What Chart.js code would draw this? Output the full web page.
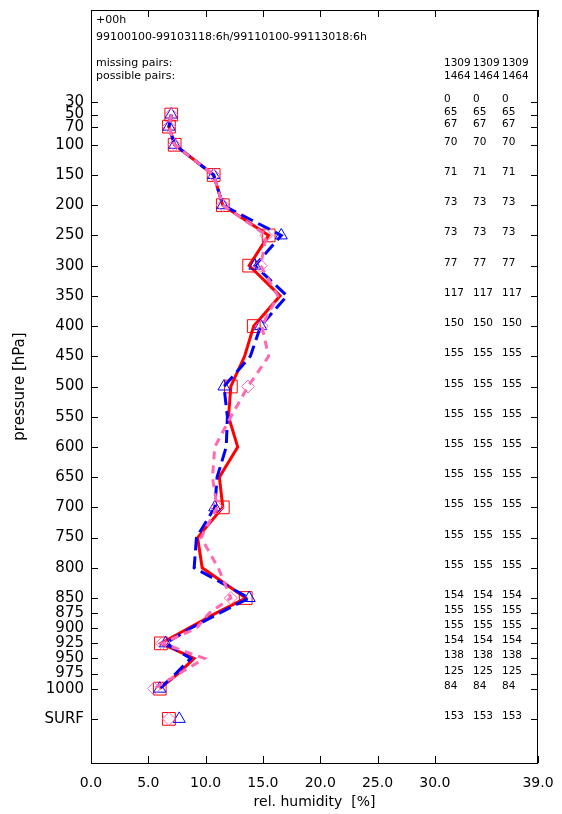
<!DOCTYPE html>
<html><head><meta charset="utf-8">
<script src="https://cdn.jsdelivr.net/npm/chart.js@4/dist/chart.umd.min.js"></script>
<style>html,body{margin:0;padding:0;background:#fff}</style>
</head><body>
<canvas id="c" width="562" height="814"></canvas>
<script>
// ---------- data ----------
const levelLabels = ['30','50','70','100','150','200','250','300','350','400','450','500','550','600','650','700','750','800','850','875','900','925','950','975','1000','SURF'];
const levelPressure = [30,50,70,100,150,200,250,300,350,400,450,500,550,600,650,700,750,800,850,875,900,925,950,975,1000,1050];
const markerLevels = [50,70,100,150,200,250,300,400,500,700,850,925,1000,1050];
const redValues  = [null,7.0,6.8,7.3,10.7,11.5,15.5,13.8,16.5,14.2,13.4,12.2,12.0,12.8,11.2,11.5,9.3,9.7,13.5,10.9,8.5,6.1,9.0,7.6,6.0,6.8];
const blueValues = [null,7.0,6.8,7.3,10.7,11.5,16.6,14.3,17.1,14.8,13.9,11.6,11.9,11.8,11.0,10.8,9.2,9.0,13.8,11.2,8.7,6.5,8.7,7.4,6.0,7.7];
const pinkValues = [null,7.0,6.8,7.3,10.7,11.5,15.3,14.8,16.3,14.9,15.5,13.7,12.2,10.8,10.6,11.0,9.6,11.1,12.2,10.3,9.2,6.2,9.9,7.7,5.5,6.8];
const countsCol1 = [0,65,67,70,71,73,73,77,117,150,155,155,155,155,155,155,155,155,154,155,155,154,138,125,84,153];
const countsCol2 = [0,65,67,70,71,73,73,77,117,150,155,155,155,155,155,155,155,155,154,155,155,154,138,125,84,153];
const countsCol3 = [0,65,67,70,71,73,73,77,117,150,155,155,155,155,155,155,155,155,154,155,155,154,138,125,84,153];
const missingPairs  = [1309,1309,1309];
const possiblePairs = [1464,1464,1464];
const xTicks = [0,5,10,15,20,25,30,39];
const headerLines = ['+00h','99100100-99103118:6h/99110100-99113018:6h'];

// ---------- helpers ----------
function pts(vals){
  const out=[];
  vals.forEach((v,i)=>{ if(v!==null) out.push({x:v,y:levelPressure[i]}); });
  return out;
}
function mkDataset(vals,color,style,radius,dash,order){
  const data=pts(vals);
  return {
    data, borderColor:color, borderWidth:3, borderDash:dash, showLine:true, fill:false,
    pointStyle:style, pointBorderColor:color, pointBackgroundColor:'rgba(0,0,0,0)', pointBorderWidth:1,
    pointRadius:ctx=>{const r=ctx.raw; return (r && markerLevels.includes(r.y))?radius:0;},
    pointHoverRadius:0, order,
    segment:{borderColor:ctx=> (ctx.p1DataIndex===data.length-1)?'rgba(0,0,0,0)':color}
  };
}
const FONT='"DejaVu Sans", sans-serif';

const framePlugin={
  id:'frame',
  afterDraw(chart){
    const {ctx,chartArea:a,scales:{x,y}}=chart;
    ctx.save();
    ctx.strokeStyle='#000'; ctx.lineWidth=1;
    ctx.strokeRect(a.left+0.5,a.top+0.5,a.right-a.left-1,a.bottom-a.top);
    ctx.beginPath();
    xTicks.forEach(v=>{const px=Math.round(x.getPixelForValue(v))+0.5;
      ctx.moveTo(px,a.bottom); ctx.lineTo(px,a.bottom-7);
      ctx.moveTo(px,a.top); ctx.lineTo(px,a.top+7);});
    levelPressure.forEach(p=>{const py=Math.round(y.getPixelForValue(p))+0.5;
      ctx.moveTo(a.left,py); ctx.lineTo(a.left+7,py);
      ctx.moveTo(a.right,py); ctx.lineTo(a.right-7,py);});
    ctx.stroke();
    ctx.fillStyle='#000';
    ctx.font='11px '+FONT; ctx.textAlign='left'; ctx.textBaseline='middle';
    ctx.fillText(headerLines[0],96,20);
    ctx.fillText(headerLines[1],96,37);
    ctx.fillText('missing pairs:',96,63);
    ctx.fillText('possible pairs:',96,76);
    ctx.font='10.5px '+FONT;
    const cols=[444,473,502];
    missingPairs.forEach((v,i)=>ctx.fillText(String(v),cols[i],63));
    possiblePairs.forEach((v,i)=>ctx.fillText(String(v),cols[i],76));
    ctx.textBaseline='alphabetic';
    [countsCol1,countsCol2,countsCol3].forEach((col,ci)=>{
      col.forEach((v,i)=>{const py=y.getPixelForValue(levelPressure[i]);
        ctx.fillText(String(v),cols[ci],py);});
    });
    ctx.restore();
  }
};

new Chart(document.getElementById('c'),{
  type:'scatter',
  data:{datasets:[
    mkDataset(redValues,'#ff0000','rect',9,[],3),
    mkDataset(blueValues,'#0000ff','triangle',7,[13,6],2),
    mkDataset(pinkValues,'#ff69b4','rectRot',6.5,[8,6],1)
  ]},
  options:{
    responsive:false, animation:false, devicePixelRatio:1,
    layout:{padding:{top:6,right:24,left:0,bottom:0}},
    plugins:{legend:{display:false},tooltip:{enabled:false}},
    scales:{
      x:{type:'linear',min:0,max:39,
        grid:{display:false,drawTicks:false}, border:{display:false},
        afterBuildTicks:s=>{s.ticks=xTicks.map(v=>({value:v}));},
        afterFit:s=>{s.height=51;s.paddingLeft=0;s.paddingRight=0;},
        ticks:{autoSkip:false,maxRotation:0,padding:12,color:'#000',font:{family:FONT,size:14},callback:v=>Number(v).toFixed(1)},
        title:{display:true,text:'rel. humidity  [%]',color:'#000',font:{family:FONT,size:14},padding:{top:0,bottom:3}}
      },
      y:{type:'linear',reverse:true,min:-123,max:1123,
        grid:{display:false,drawTicks:false}, border:{display:false},
        afterBuildTicks:s=>{s.ticks=levelPressure.map(v=>({value:v}));},
        afterFit:s=>{s.width=91;s.paddingTop=0;s.paddingBottom=0;},
        ticks:{autoSkip:false,padding:7,color:'#000',font:{family:FONT,size:15},
          callback:v=>{const i=levelPressure.indexOf(v);return i>=0?levelLabels[i]:'';}},
        title:{display:true,text:'pressure [hPa]',color:'#000',font:{family:FONT,size:15},padding:{top:11,bottom:0}}
      }
    }
  },
  plugins:[framePlugin]
});
</script>
</body></html>
